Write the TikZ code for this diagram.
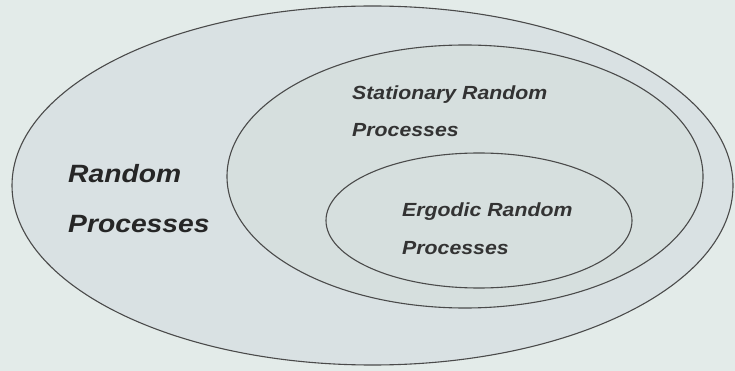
\documentclass[tikz,border=0pt]{standalone}
\usepackage{fontspec}
\setmainfont{Liberation Sans}
\definecolor{bg}{HTML}{E3EBE9}
\definecolor{outerfill}{HTML}{D9E1E3}
\definecolor{midfill}{HTML}{D6DFDE}
\definecolor{innerfill}{HTML}{D6DFDE}
\definecolor{edge}{HTML}{4A4A4A}
\tikzset{
  setline/.style={draw=edge, line width=1.1pt},
  bigtxt/.style={anchor=base west, inner sep=0pt, font=\fontsize{25}{30}\selectfont\bfseries\itshape, text=black!85},
  smalltxt/.style={anchor=base west, inner sep=0pt, font=\fontsize{19}{23}\selectfont\bfseries\itshape, text=black!80}
}
\begin{document}
\begin{tikzpicture}[x=1pt,y=-1pt]
\fill[bg] (0,0) rectangle (735,371);
\useasboundingbox (0,0) rectangle (735,371);
\draw[setline, fill=outerfill] (372.5,185.5) ellipse [x radius=360.5, y radius=179.5];
\draw[setline, fill=midfill] (465,176.5) ellipse [x radius=238, y radius=131.5];
\draw[setline, fill=innerfill] (479,220.5) ellipse [x radius=153, y radius=67.5];
\node[bigtxt] (rp1) at (68,183) {\scalebox{1.13}[1]{Random}};
\node[bigtxt] (rp2) at (68,233) {\scalebox{1.13}[1]{Processes}};
\node[smalltxt] (st1) at (352,100) {\scalebox{1.12}[1]{Stationary Random}};
\node[smalltxt] (st2) at (352,137) {\scalebox{1.12}[1]{Processes}};
\node[smalltxt] (er1) at (402,217) {\scalebox{1.12}[1]{Ergodic Random}};
\node[smalltxt] (er2) at (402,254) {\scalebox{1.12}[1]{Processes}};
\end{tikzpicture}
\end{document}
